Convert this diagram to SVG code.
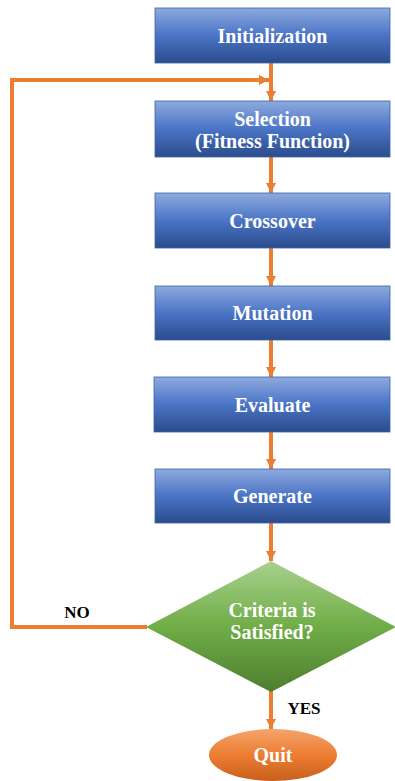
<svg xmlns="http://www.w3.org/2000/svg" width="395" height="781" viewBox="0 0 395 781">
<defs>
<linearGradient id="gBlue" x1="0" y1="0" x2="0" y2="1">
<stop offset="0" stop-color="#8EAADE"/>
<stop offset="0.5" stop-color="#4A74C6"/>
<stop offset="1" stop-color="#2B4C8C"/>
</linearGradient>
<linearGradient id="gGreen" x1="0" y1="0" x2="0" y2="1">
<stop offset="0" stop-color="#A9D18E"/>
<stop offset="0.5" stop-color="#70AD47"/>
<stop offset="1" stop-color="#4E7E2F"/>
</linearGradient>
<linearGradient id="gOrange" x1="0" y1="0" x2="0" y2="1">
<stop offset="0" stop-color="#F4A46C"/>
<stop offset="0.5" stop-color="#ED7D31"/>
<stop offset="1" stop-color="#C8601C"/>
</linearGradient>
<marker id="arr" viewBox="0 0 10 10" refX="10" refY="5" markerWidth="2.6" markerHeight="2.6" orient="auto" markerUnits="strokeWidth">
<path d="M0,0 L10,5 L0,10 z" fill="#ED7D31"/>
</marker>
<style>
.box{fill:url(#gBlue);stroke:#3A63AE;stroke-width:0.8}
.t{font-family:"Liberation Serif","Times New Roman",serif;font-weight:bold;font-size:20px;fill:#fff;text-anchor:middle}
.lbl{font-family:"Liberation Serif","Times New Roman",serif;font-weight:bold;font-size:17px;fill:#000;text-anchor:middle}
.c{fill:none;stroke:#ED7D31;stroke-width:4}
</style>
</defs>
<g id="connectors">
<line class="c" x1="271" y1="63" x2="271" y2="101" marker-end="url(#arr)"/>
<line class="c" x1="271" y1="157" x2="271" y2="193" marker-end="url(#arr)"/>
<line class="c" x1="271" y1="248" x2="271" y2="286" marker-end="url(#arr)"/>
<line class="c" x1="271" y1="340" x2="271" y2="377" marker-end="url(#arr)"/>
<line class="c" x1="271" y1="432" x2="271" y2="469" marker-end="url(#arr)"/>
<line class="c" x1="271" y1="523" x2="271" y2="561" marker-end="url(#arr)"/>
<line class="c" x1="271" y1="691" x2="271" y2="729" marker-end="url(#arr)"/>
<polyline class="c" points="147,627 12,627 12,80 269,80" marker-end="url(#arr)"/>
<text class="lbl" x="77" y="618">NO</text>
<text class="lbl" x="304" y="714">YES</text>
</g>
<g id="initialization">
<rect class="box" x="155" y="8" width="235" height="55"/>
<text class="t" x="272.5" y="43">Initialization</text>
</g>
<g id="selection">
<rect class="box" x="155" y="101" width="235" height="56"/>
<text class="t" x="272.5" y="126">Selection</text>
<text class="t" x="272.5" y="148">(Fitness Function)</text>
</g>
<g id="crossover">
<rect class="box" x="155" y="193" width="235" height="55"/>
<text class="t" x="272.5" y="228">Crossover</text>
</g>
<g id="mutation">
<rect class="box" x="155" y="286" width="235" height="54"/>
<text class="t" x="272.5" y="320">Mutation</text>
</g>
<g id="evaluate">
<rect class="box" x="154" y="377" width="236" height="55"/>
<text class="t" x="272.5" y="412">Evaluate</text>
</g>
<g id="generate">
<rect class="box" x="155" y="469" width="235" height="54"/>
<text class="t" x="272.5" y="503">Generate</text>
</g>
<g id="criteria">
<polygon points="271,561 396,627 271,692 146,627" fill="url(#gGreen)"/>
<text class="t" x="272" y="617">Criteria is</text>
<text class="t" x="272" y="639">Satisfied?</text>
</g>
<g id="quit">
<ellipse cx="273" cy="755" rx="64" ry="26" fill="url(#gOrange)"/>
<text class="t" x="273" y="762">Quit</text>
</g>
</svg>
